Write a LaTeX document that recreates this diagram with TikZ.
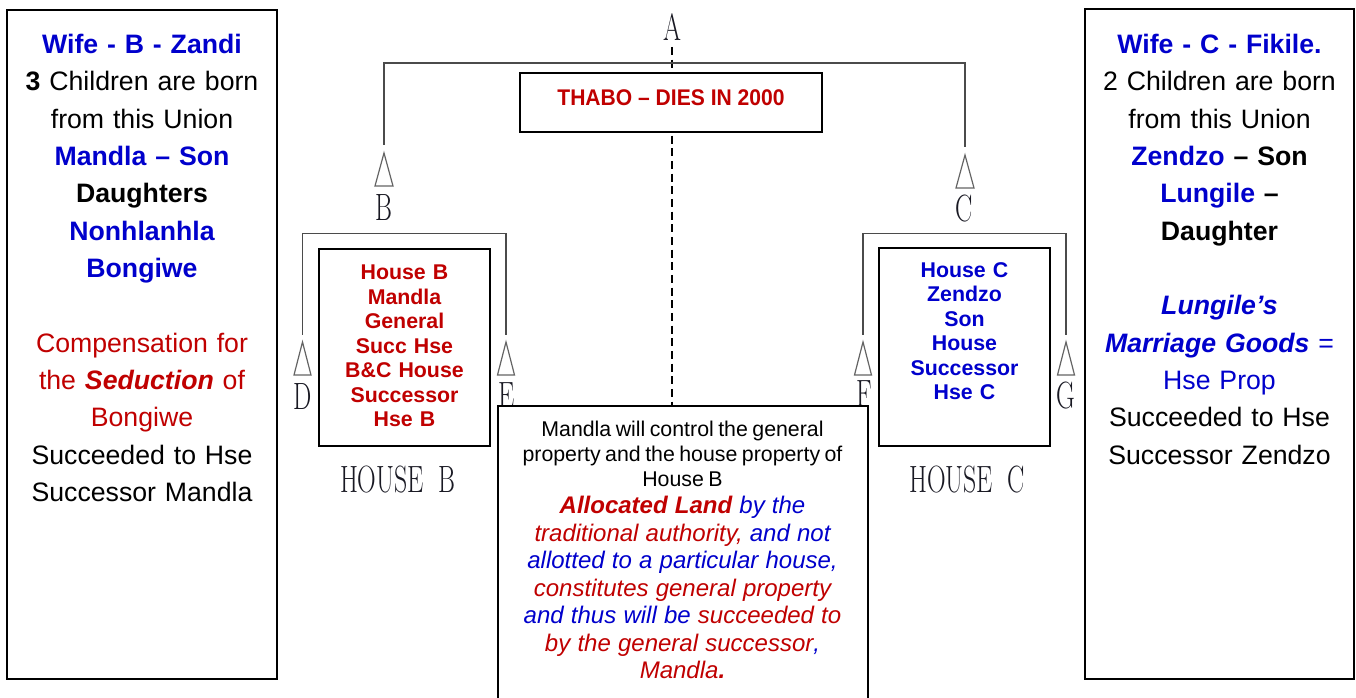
\documentclass[tikz,border=0pt]{standalone}
\usepackage{fontspec}
\usepackage{graphicx}
\usetikzlibrary{fit}
\newfontfamily\arial{Liberation Sans}
\newfontfamily\cadfont{Latin Modern Roman}
\definecolor{myred}{RGB}{192,0,0}
\definecolor{myblue}{RGB}{0,0,204}
\definecolor{genline}{RGB}{75,75,75}
\definecolor{trigray}{RGB}{100,100,100}
\definecolor{cadtext}{RGB}{25,25,35}
\newcommand{\cadtxt}[1]{\scalebox{0.68}[1]{#1}}
\setlength{\parindent}{0pt}
\begin{document}
\begin{tikzpicture}[x=0.75pt,y=-0.75pt,
  box/.style={draw=black, line width=1.5pt, fill=white, inner sep=0pt},
  gen/.style={draw=genline, line width=1.1pt},
  dashline/.style={draw=black, line width=0.9pt, dash pattern=on 6pt off 3.5pt},
  tri/.style={draw=trigray, line width=0.9pt, line join=miter},
  cadlbl/.style={font=\cadfont\fontsize{28.5}{30}\selectfont, text=cadtext, inner sep=0pt},
  sidetext/.style={font=\arial\fontsize{20}{28}\selectfont, align=center, text width=195pt, inner sep=0pt, anchor=north},
  housetext/.style={font=\arial\bfseries\fontsize{16}{18.4}\selectfont, align=center, text width=120pt, inner sep=0pt, anchor=north},
  centertext/.style={font=\arial, align=center, text width=270pt, inner sep=0pt, anchor=north}
]
\useasboundingbox (0,0) rectangle (1356,698);
\clip (0,0) rectangle (1356,698);

% ---------- genealogy ----------
\node[cadlbl] (A) at (672.5,27.5) {\cadtxt{A}};
\coordinate (dashTop) at (672,47);
\coordinate (dashEnd) at (672,406);
\draw[dashline] (dashTop) -- (dashEnd);

\coordinate (barL) at (384,63);
\coordinate (barR) at (965,63);
\coordinate (stemB) at (384,145);
\coordinate (stemC) at (965,147);
\draw[gen] (stemB) -- (barL) -- (barR) -- (stemC);

\coordinate (triB) at (384,153);
\coordinate (triC) at (965,155);
\draw[tri] (triB) -- ++(-9,33) -- ++(18,0) -- cycle;
\draw[tri] (triC) -- ++(-9,33) -- ++(18,0) -- cycle;
\node[cadlbl] (B) at (384,208) {\cadtxt{B}};
\node[cadlbl] (C) at (964,209) {\cadtxt{C}};

% house B bracket
\coordinate (hbL) at (302.5,233.5);
\coordinate (hbR) at (506,233.5);
\coordinate (stemD) at (302.5,335);
\coordinate (stemE) at (506,335);
\draw[gen] (stemD) -- (hbL) -- (hbR) -- (stemE);
\coordinate (triD) at (302.5,342);
\coordinate (triE) at (506,342);
\draw[tri] (triD) -- ++(-8.5,33) -- ++(17,0) -- cycle;
\draw[tri] (triE) -- ++(-8.5,33) -- ++(17,0) -- cycle;
\node[cadlbl] (D) at (303,397) {\cadtxt{D}};
\node[cadlbl] (E) at (507,396) {\cadtxt{E}};

% house C bracket
\coordinate (hcL) at (863,233.5);
\coordinate (hcR) at (1066,233.5);
\coordinate (stemF) at (863,335);
\coordinate (stemG) at (1066,335);
\draw[gen] (stemF) -- (hcL) -- (hcR) -- (stemG);
\coordinate (triF) at (863,342);
\coordinate (triG) at (1066,342);
\draw[tri] (triF) -- ++(-8.5,33) -- ++(17,0) -- cycle;
\draw[tri] (triG) -- ++(-8.5,33) -- ++(17,0) -- cycle;
\node[cadlbl] (F) at (864,394) {\cadtxt{F}};
\node[cadlbl] (G) at (1066,396) {\cadtxt{G}};

\node[cadlbl] (houseBlbl) at (397.5,480) {\cadtxt{HOUSE\hspace{0.55em}B}};
\node[cadlbl] (houseClbl) at (967,480) {\cadtxt{HOUSE\hspace{0.55em}C}};

% ---------- boxes ----------
\coordinate (th1) at (520,73);
\coordinate (th2) at (822,132);
\node[box, fit=(th1)(th2)] (thabo) {};
\node[font=\arial\bfseries\fontsize{17}{20}\selectfont, text=myred, inner sep=0pt] (thabotext) at (671,97.5) {\scalebox{0.93}[1]{THABO – DIES IN 2000}};

\coordinate (hb1) at (319,249);
\coordinate (hb2) at (490,446);
\node[box, fit=(hb1)(hb2)] (houseB) {};
\node[housetext, text=myred] (houseBtext) at (404.5,264.7)
  {House B\\ Mandla\\ General\\ Succ Hse\\ B\&C House\\ Successor\\ Hse B};

\coordinate (hc1) at (879,248);
\coordinate (hc2) at (1050,446);
\node[box, fit=(hc1)(hc2)] (houseC) {};
\node[housetext, text=myblue] (houseCtext) at (964.5,262)
  {House C\\ Zendzo\\ Son\\ House\\ Successor\\ Hse C};

\coordinate (cb1) at (498,406);
\coordinate (cb2) at (868,712);
\node[box, fit=(cb1)(cb2)] (centerbox) {};
\node[centertext] (centertxt) at (682.5,420.5)
  {{\fontsize{16}{18.75}\selectfont Mandla will control the general\\ property and the house property of\\ House B\par}%
   {\fontsize{18}{20.6}\selectfont\itshape\spaceskip=0.3em
   \textcolor{myred}{\bfseries Allocated Land} \textcolor{myblue}{by the}\\
   \textcolor{myred}{traditional authority,} \textcolor{myblue}{and not}\\
   \textcolor{myblue}{allotted to a particular house,}\\
   \textcolor{myred}{constitutes general property}\\
   \textcolor{myblue}{and thus will be} \textcolor{myred}{succeeded to}\\
   \textcolor{myred}{by the general successor}\textcolor{myblue}{,}\\
   \textcolor{myred}{Mandla\textbf{.}}\par}};

\coordinate (lb1) at (7,10);
\coordinate (lb2) at (277,679);
\node[box, fit=(lb1)(lb2)] (leftbox) {};
\node[sidetext] (lefttext) at (142,34)
  {\textcolor{myblue}{\bfseries Wife - B - Zandi}\\
   \textbf{3} Children are born\\
   from this Union\\
   \textcolor{myblue}{\bfseries Mandla – Son}\\
   \textbf{Daughters}\\
   \textcolor{myblue}{\bfseries Nonhlanhla}\\
   \textcolor{myblue}{\bfseries Bongiwe}\\[28pt]
   \textcolor{myred}{Compensation for}\\
   \textcolor{myred}{the \textbf{\textit{Seduction}} of}\\
   \textcolor{myred}{Bongiwe}\\
   Succeeded to Hse\\
   Successor Mandla};

\coordinate (rb1) at (1085,9);
\coordinate (rb2) at (1354,679);
\node[box, fit=(rb1)(rb2)] (rightbox) {};
\node[sidetext] (righttext) at (1219.5,34)
  {\textcolor{myblue}{\bfseries Wife - C - Fikile.}\\
   2 Children are born\\
   from this Union\\
   \textbf{\textcolor{myblue}{Zendzo} – Son}\\
   \textbf{\textcolor{myblue}{Lungile} –}\\
   \textbf{Daughter}\\[28pt]
   \textcolor{myblue}{\bfseries\itshape Lungile’s}\\
   \textcolor{myblue}{\textbf{\textit{Marriage Goods}} =}\\
   \textcolor{myblue}{Hse Prop}\\
   Succeeded to Hse\\
   Successor Zendzo};
\end{tikzpicture}
\end{document}
